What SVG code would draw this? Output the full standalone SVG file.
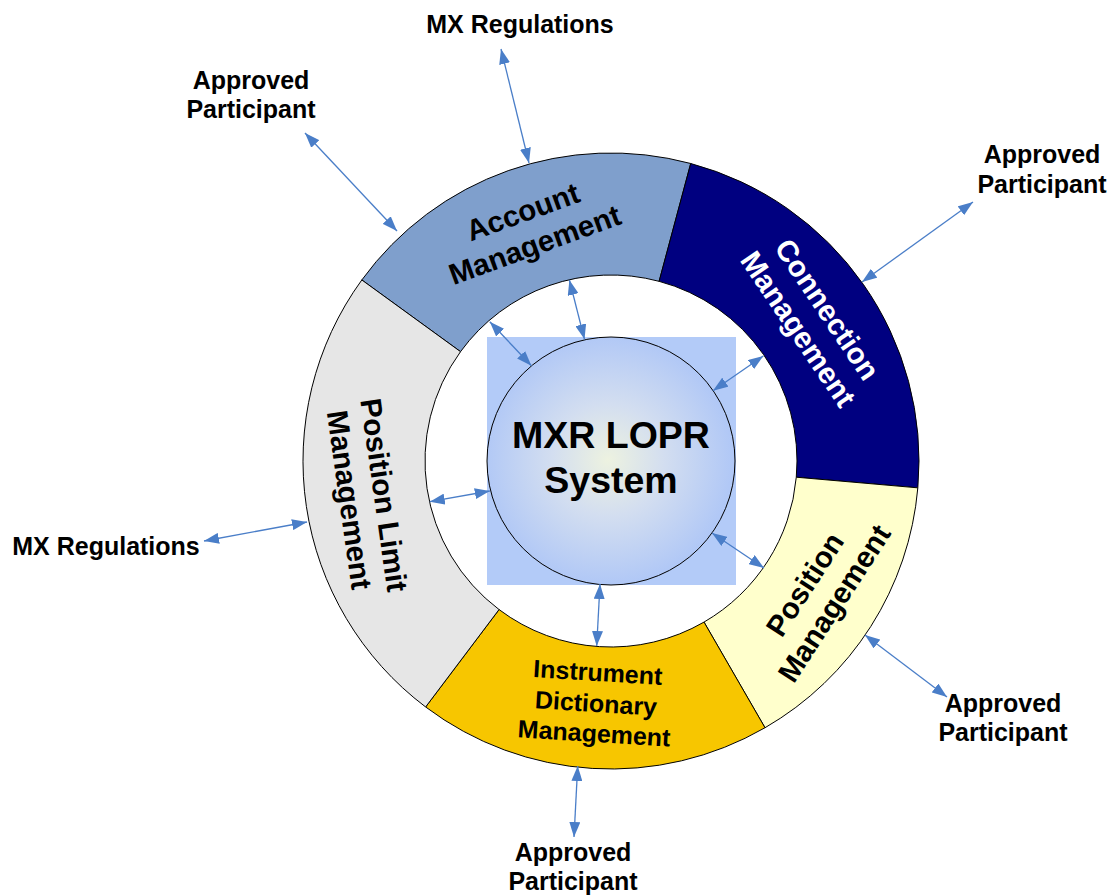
<svg xmlns="http://www.w3.org/2000/svg" width="1114" height="896" viewBox="0 0 1114 896">
  <style>
    .seg { stroke: #000; stroke-width: 1; }
    .ring-label { font-family: "Liberation Sans", Arial, sans-serif; font-weight: bold; font-size: 29.5px; text-anchor: middle; fill: #000; }
    .ext-label { font-family: "Liberation Sans", Arial, sans-serif; font-weight: bold; font-size: 25px; text-anchor: middle; fill: #000; }
    .core-label { font-family: "Liberation Sans", Arial, sans-serif; font-weight: bold; font-size: 37.5px; text-anchor: middle; fill: #000; }
    .link { stroke: #4a7ec8; stroke-width: 1.3; fill: none; marker-start: url(#head); marker-end: url(#head); }
  </style>
  <defs>
    <marker id="head" viewBox="0 0 15 11" refX="15" refY="5.5" markerWidth="15" markerHeight="11" markerUnits="userSpaceOnUse" orient="auto-start-reverse">
      <path d="M0,0 L15,5.5 L0,11 Z" fill="#4a7ec8"/>
    </marker>
    <radialGradient id="coreFill" cx="608" cy="460" r="124" gradientUnits="userSpaceOnUse">
      <stop offset="0" stop-color="#edf2e0"/>
      <stop offset="0.45" stop-color="#d3def0"/>
      <stop offset="1" stop-color="#b1c8f6"/>
    </radialGradient>
  </defs>

  <rect width="1114" height="896" fill="#fff"/>

  <!-- ring segments -->
  <g id="account-management">
    <path class="seg" fill="#7f9fcc" d="M 361.82 279.96 A 308 308 0 0 1 690.72 163.49 L 659.14 281.34 A 186 186 0 0 0 460.52 351.67 Z"/>
    <text class="ring-label" transform="translate(528.6,228) rotate(-20)"><tspan x="0" y="-7">Account</tspan><tspan x="0" y="28">Management</tspan></text>
  </g>
  <g id="connection-management">
    <path class="seg" fill="#000080" d="M 690.72 163.49 A 308 308 0 0 1 917.83 487.84 L 796.29 477.21 A 186 186 0 0 0 659.14 281.34 Z"/>
    <text class="ring-label" style="fill:#fff" transform="translate(813,319) rotate(56)"><tspan x="0" y="-7">Connection</tspan><tspan x="0" y="28">Management</tspan></text>
  </g>
  <g id="position-management">
    <path class="seg" fill="#ffffcc" d="M 917.83 487.84 A 308 308 0 0 1 765 727.74 L 704 622.08 A 186 186 0 0 0 796.29 477.21 Z"/>
    <text class="ring-label" transform="translate(819.3,593.7) rotate(-57)"><tspan x="0" y="-7">Position</tspan><tspan x="0" y="28">Management</tspan></text>
  </g>
  <g id="instrument-dictionary-management">
    <path class="seg" fill="#f7c600" d="M 765 727.74 A 308 308 0 0 1 425.64 706.98 L 499.06 609.55 A 186 186 0 0 0 704 622.08 Z"/>
    <text class="ext-label" transform="translate(596,703) rotate(3.5)"><tspan x="0" y="-22">Instrument</tspan><tspan x="0" y="9">Dictionary</tspan><tspan x="0" y="39">Management</tspan></text>
  </g>
  <g id="position-limit-management">
    <path class="seg" fill="#e6e6e6" d="M 425.64 706.98 A 308 308 0 0 1 361.82 279.96 L 460.52 351.67 A 186 186 0 0 0 499.06 609.55 Z"/>
    <text class="ring-label" transform="translate(367,497.5) rotate(82)"><tspan x="0" y="-7">Position Limit</tspan><tspan x="0" y="28">Management</tspan></text>
  </g>

  <!-- core system -->
  <g id="mxr-lopr-system">
    <rect x="487" y="337" width="249" height="248" fill="#b3cbf8"/>
    <circle cx="611" cy="461" r="124" fill="url(#coreFill)" stroke="#000" stroke-width="1"/>
    <text class="core-label" x="611" y="448">MXR LOPR</text>
    <text class="core-label" x="611" y="493">System</text>
  </g>

  <!-- external parties -->
  <g id="mx-regulations-top"><text class="ext-label" x="520" y="33">MX Regulations</text></g>
  <g id="approved-participant-nw"><text class="ext-label" x="251" y="89">Approved</text><text class="ext-label" x="251" y="118">Participant</text></g>
  <g id="approved-participant-ne"><text class="ext-label" x="1042" y="163">Approved</text><text class="ext-label" x="1042" y="193">Participant</text></g>
  <g id="mx-regulations-left"><text class="ext-label" x="106" y="555">MX Regulations</text></g>
  <g id="approved-participant-se"><text class="ext-label" x="1003" y="712">Approved</text><text class="ext-label" x="1003" y="741">Participant</text></g>
  <g id="approved-participant-s"><text class="ext-label" x="573" y="861">Approved</text><text class="ext-label" x="573" y="890">Participant</text></g>

  <!-- connectors -->
  <g id="connectors">
    <line class="link" x1="501" y1="49" x2="529" y2="163"/>
    <line class="link" x1="305" y1="133" x2="397" y2="231"/>
    <line class="link" x1="973" y1="202" x2="862" y2="282"/>
    <line class="link" x1="204" y1="541" x2="307" y2="522"/>
    <line class="link" x1="865" y1="635" x2="947" y2="697"/>
    <line class="link" x1="577.7" y1="766" x2="574" y2="837"/>
    <line class="link" x1="569.4" y1="280" x2="584.5" y2="339.3"/>
    <line class="link" x1="489.8" y1="321.7" x2="531.4" y2="365.7"/>
    <line class="link" x1="763.3" y1="356" x2="713" y2="390.7"/>
    <line class="link" x1="429.8" y1="501.7" x2="489.8" y2="491"/>
    <line class="link" x1="712" y1="533" x2="764" y2="568"/>
    <line class="link" x1="600" y1="584" x2="596.7" y2="646"/>
  </g>
</svg>
